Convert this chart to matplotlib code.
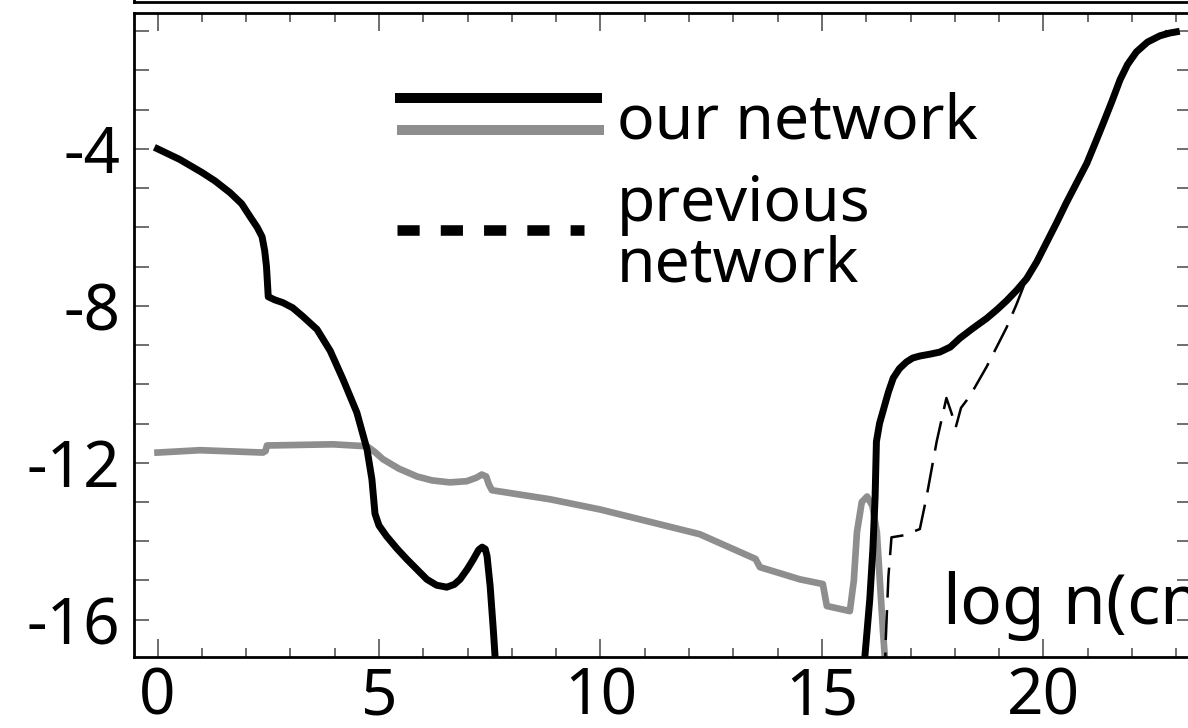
import numpy as np
import matplotlib

matplotlib.use("Agg")
import matplotlib.pyplot as plt
from matplotlib.ticker import MultipleLocator

plt.rcParams["font.family"] = ["Noto Sans", "DejaVu Sans"]
plt.rcParams["axes.unicode_minus"] = False

# log n(cm^-3) on x, log abundance on y
# our network, species A (black); NaN splits the part that runs below the frame
our_a_x = [0.0, 0.5, 1.0, 1.3, 1.64, 1.9, 2.09, 2.25, 2.36, 2.42, 2.46, 2.5,
           2.65, 2.83, 3.05, 3.28, 3.6, 3.9, 4.19, 4.5, 4.73, 4.84, 4.91,
           5.0, 5.17, 5.4, 5.63, 6.08, 6.3, 6.53, 6.7, 6.83, 7.0, 7.13, 7.25,
           7.33, 7.4, 7.44, 7.51, 7.58, 7.62, 7.66, np.nan,
           15.94, 15.97, 16.08, 16.15, 16.2, 16.23, 16.3, 16.39, 16.5, 16.61,
           16.75, 16.91, 17.05, 17.21, 17.45, 17.66, 17.9, 18.11, 18.4,
           18.72, 18.95, 19.17, 19.4, 19.62, 19.85, 20.07, 20.3, 20.52,
           20.75, 20.98, 21.17, 21.35, 21.55, 21.73, 21.9, 22.1, 22.35,
           22.63, 22.85, 23.0]
our_a_y = [-4.0, -4.27, -4.6, -4.82, -5.12, -5.4, -5.73, -6.0, -6.24, -6.6,
           -7.0, -7.77, -7.85, -7.92, -8.05, -8.27, -8.6, -9.15, -9.88,
           -10.72, -11.66, -12.42, -13.3, -13.6, -13.87, -14.18, -14.46,
           -14.97, -15.12, -15.17, -15.1, -14.97, -14.7, -14.46, -14.22,
           -14.15, -14.2, -14.38, -15.15, -16.24, -16.93, -17.6, np.nan,
           -17.6, -16.93, -15.48, -14.2, -12.88, -11.46, -11.0, -10.64,
           -10.2, -9.84, -9.6, -9.43, -9.33, -9.28, -9.23, -9.18, -9.05,
           -8.83, -8.58, -8.32, -8.1, -7.87, -7.6, -7.31, -6.88, -6.39,
           -5.88, -5.37, -4.87, -4.37, -3.85, -3.35, -2.78, -2.24, -1.85,
           -1.53, -1.28, -1.12, -1.05, -1.02]

# our network, species B (grey)
our_b_x = [0.0, 0.96, 2.38, 2.44, 2.47, 3.96, 4.73, 4.9, 5.09, 5.45, 5.86,
           6.2, 6.6, 6.98, 7.2, 7.32, 7.42, 7.48, 7.55, 8.86, 9.99, 12.24,
           13.5, 13.6, 14.5, 15.02, 15.07, 15.11, 15.63, 15.72, 15.79, 15.9,
           16.02, 16.14, 16.24, 16.38, 16.42, 16.45]
our_b_y = [-11.74, -11.68, -11.74, -11.7, -11.56, -11.53, -11.58, -11.72,
           -11.91, -12.15, -12.35, -12.45, -12.5, -12.47, -12.38, -12.3,
           -12.35, -12.55, -12.7, -12.93, -13.19, -13.82, -14.45, -14.66,
           -14.97, -15.09, -15.4, -15.65, -15.78, -15.0, -13.77, -13.0,
           -12.86, -13.1, -13.77, -16.32, -16.95, -17.6]

# previous network, species A (dashed)
prev_a_x = [16.42, 16.44, 16.5, 16.57, 16.84, 17.21, 17.36, 17.59, 17.81,
            17.93, 18.02, 18.14, 18.34, 18.72, 19.17, 19.39, 19.62, 20.07,
            20.52, 20.98, 21.35, 21.73, 22.1, 22.63, 23.0]
prev_a_y = [-17.6, -16.53, -14.91, -13.9, -13.85, -13.69, -12.88, -11.46,
            -10.35, -10.75, -11.1, -10.6, -10.3, -9.55, -8.55, -7.97, -7.31,
            -6.39, -5.37, -4.37, -3.35, -2.24, -1.53, -1.1, -0.85]

x_ticks = [0, 5, 10, 15, 20]
y_ticks = [-16, -12, -8, -4]

GREY = "#8e8e8e"

fig = plt.figure(figsize=(11.88, 7.28), dpi=100)

# panel above, only its lower frame edge shows
ax_top = fig.add_axes([0.1132, 1 - 1.5 / 728, 0.890, 0.3])
ax_top.set_xticks([])
ax_top.set_yticks([])
for sp in ax_top.spines.values():
    sp.set_linewidth(2.0)

ax = fig.add_axes([0.1132, 0.0975, 0.890, 0.8846])

ax.plot(our_b_x, our_b_y, color=GREY, lw=4.8, solid_joinstyle="round", zorder=2)
ax.plot(our_a_x, our_a_y, color="black", lw=5.0, solid_joinstyle="round", zorder=3)
ax.plot(prev_a_x, prev_a_y, color="black", lw=1.8, dashes=(12, 5), zorder=4)

ax.set_xlim(-0.52, 23.35)
ax.set_ylim(-16.95, -0.54)

ax.set_xticks(x_ticks)
ax.set_yticks(y_ticks)
ax.xaxis.set_minor_locator(MultipleLocator(1))
ax.yaxis.set_minor_locator(MultipleLocator(1))
ax.tick_params(which="both", direction="in", top=True, right=True,
               width=1.2, color="#555555", labelsize=46)
ax.tick_params(axis="x", which="major", length=13, pad=6)
ax.tick_params(axis="x", which="minor", length=6.5)
ax.tick_params(axis="y", which="both", length=11, pad=10)
for sp in ax.spines.values():
    sp.set_linewidth(2.0)

# hand-made legend: two solid lines share one label
ax.plot([0.2463, 0.442], [0.868, 0.868], transform=ax.transAxes,
        color="black", lw=7.2, solid_capstyle="butt")
ax.plot([0.248, 0.444], [0.818, 0.818], transform=ax.transAxes,
        color=GREY, lw=7.2, solid_capstyle="butt")
ax.plot([0.248, 0.425], [0.663, 0.663], transform=ax.transAxes,
        color="black", lw=7.6, dashes=(2.1, 2.0), dash_capstyle="butt")
ax.text(0.456, 0.83, "our network", transform=ax.transAxes,
        fontsize=45, ha="left", va="center")
ax.text(0.456, 0.655, "previous\nnetwork", transform=ax.transAxes,
        fontsize=45, ha="left", va="center", linespacing=0.95)

ax.text(0.764, 0.05, "log n(cm$^{-3}$)", transform=ax.transAxes,
        fontsize=50, ha="left", va="baseline")

fig.savefig("out.png", dpi=100)
